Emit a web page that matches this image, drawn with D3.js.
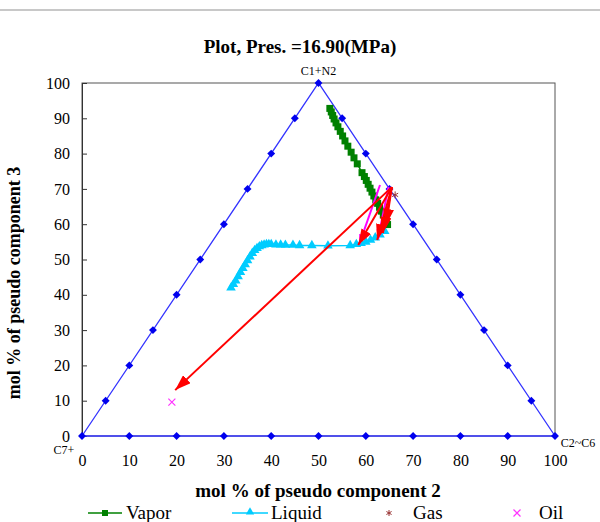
<!DOCTYPE html>
<html>
<head>
<meta charset="utf-8">
<script src="https://cdn.jsdelivr.net/npm/d3@7"></script>
<style>
  body { margin: 0; background: #fff; }
  text { font-family: "Liberation Serif", "Times New Roman", serif; }
</style>
</head>
<body>
<svg id="chart" width="600" height="522"></svg>
<script>
const svg = d3.select("#chart");
const width = +svg.attr("width");
const height = +svg.attr("height");
const margin = { top: 83, right: 45, bottom: 86, left: 82 };

// ternary triangle corners (x = comp 2, y = comp 3)
const corners = [[0, 0], [100, 0], [50, 100]];
const cornerLabels = ["C7+", "C2~C6", "C1+N2"];
const axisTicks = [0, 10, 20, 30, 40, 50, 60, 70, 80, 90, 100];

// vapor phase compositions
const vaporX = [52.4, 52.7, 53.0, 53.3, 53.7, 54.1, 54.6, 55.1, 55.6, 56.2, 56.9, 57.5, 58.2,
  59.2, 59.7, 60.1, 60.5, 60.9, 61.3, 61.7, 62.1, 62.5, 62.9, 63.3, 63.7, 64.0, 64.3, 64.6];
const vaporY = [92.8, 91.8, 90.8, 89.8, 88.7, 87.6, 86.3, 85.0, 83.6, 82.1, 80.4, 78.8, 77.1,
  74.6, 73.5, 72.4, 71.3, 70.2, 69.1, 68.0, 66.9, 65.9, 64.8, 63.7, 62.6, 61.6, 60.7, 59.9];

// liquid phase compositions
const liquidX = [31.5, 32.0, 32.5, 33.0, 33.5, 34.0, 34.5, 35.0, 35.5, 36.0, 36.5, 37.0, 37.5, 38.0,
  38.5, 39.0, 39.5, 40.0, 41.0, 42.0, 43.0, 44.6, 46.0, 48.6, 52.0, 56.7, 58.0, 59.0, 60.0, 61.0, 62.0, 63.0, 64.0];
const liquidY = [42.0, 43.0, 44.0, 45.2, 46.4, 47.5, 48.6, 49.7, 50.8, 51.8, 52.6, 53.2, 53.7, 54.0,
  54.2, 54.3, 54.3, 54.3, 54.2, 54.2, 54.1, 54.1, 54.0, 54.0, 53.9, 54.0, 54.3, 54.6, 55.0, 55.5, 56.2, 57.0, 58.0];

const gas = [66.2, 68.3];
const oil = [19.0, 9.6];

// tie-line arrows: [x1, y1, x2, y2]
const redArrows = [
  [65.5, 70.5, 19.7, 13.0],
  [65.5, 70.5, 58.4, 54.1],
  [65.5, 70.5, 62.4, 55.5],
  [65.5, 70.5, 63.6, 57.5],
  [65.5, 70.5, 64.3, 59.8]
];
const pinkArrows = [
  [63.0, 71.1, 58.6, 54.3],
  [64.8, 70.6, 62.6, 55.8]
];

const x = d3.scaleLinear().domain([0, 100]).range([margin.left, width - margin.right]);
const y = d3.scaleLinear().domain([0, 100]).range([height - margin.bottom, margin.top]);

// grey line on top of page
svg.append("line")
  .attr("x1", 0).attr("x2", width).attr("y1", 10).attr("y2", 10)
  .attr("stroke", "#c8c8c8").attr("stroke-width", 2);

// title
svg.append("text")
  .attr("x", 300).attr("y", 53)
  .attr("text-anchor", "middle")
  .attr("font-size", "19px").attr("font-weight", "bold")
  .text("Plot, Pres. =16.90(MPa)");

// plot frame
svg.append("rect")
  .attr("x", x(0)).attr("y", y(100))
  .attr("width", x(100) - x(0)).attr("height", y(0) - y(100))
  .attr("fill", "none").attr("stroke", "#555").attr("stroke-width", 1);

// y axis
const yAxis = svg.append("g")
  .attr("transform", `translate(${x(0)},0)`)
  .call(d3.axisLeft(y).tickValues(axisTicks).tickSize(-5).tickPadding(12));
yAxis.select(".domain").attr("stroke", "#333");
yAxis.selectAll("line").attr("stroke", "#333");
yAxis.selectAll("text").attr("font-size", "16px").attr("font-family", "Liberation Serif, serif");

// x axis labels
const xAxis = svg.append("g")
  .attr("transform", `translate(0,${y(0)})`)
  .call(d3.axisBottom(x).tickValues(axisTicks).tickSize(0).tickPadding(19));
xAxis.select(".domain").remove();
xAxis.selectAll("text").attr("font-size", "16px").attr("font-family", "Liberation Serif, serif");

// axis titles
svg.append("text")
  .attr("x", 318).attr("y", 497)
  .attr("text-anchor", "middle")
  .attr("font-size", "19px").attr("font-weight", "bold")
  .text("mol % of pseudo component 2");

svg.append("text")
  .attr("transform", "rotate(-90)")
  .attr("x", -283).attr("y", 20)
  .attr("text-anchor", "middle")
  .attr("font-size", "18px").attr("font-weight", "bold")
  .text("mol % of pseudo component 3");

// triangle edges with diamond markers every 10%
const blue = "#3333ff";
const edgePts = [];
for (let i = 0; i < 3; i++) {
  const a = corners[i], b = corners[(i + 1) % 3];
  axisTicks.slice(0, 10).forEach(t => {
    edgePts.push([a[0] + (b[0] - a[0]) * t / 100, a[1] + (b[1] - a[1]) * t / 100]);
  });
}
svg.append("path")
  .datum(corners.concat([corners[0]]))
  .attr("d", d3.line().x(d => x(d[0])).y(d => y(d[1])))
  .attr("fill", "none").attr("stroke", blue).attr("stroke-width", 1.3);
svg.selectAll(".diamond")
  .data(edgePts)
  .enter()
  .append("path")
  .attr("transform", d => `translate(${x(d[0])},${y(d[1])}) rotate(45)`)
  .attr("d", "M-2.8,-2.8H2.8V2.8H-2.8Z")
  .attr("fill", "#0000ee");

// corner labels
const cornerPos = [[-18, 18], [23, 11], [0, -8]];
svg.selectAll(".corner-label")
  .data(cornerLabels)
  .enter()
  .append("text")
  .attr("x", (d, i) => x(corners[i][0]) + cornerPos[i][0])
  .attr("y", (d, i) => y(corners[i][1]) + cornerPos[i][1])
  .attr("text-anchor", "middle")
  .attr("font-size", "12px")
  .text(d => d);

// vapor series
const vapor = vaporX.map((v, i) => [v, vaporY[i]]);
svg.append("path")
  .datum(vapor)
  .attr("d", d3.line().x(d => x(d[0])).y(d => y(d[1])))
  .attr("fill", "none").attr("stroke", "#008000").attr("stroke-width", 1.5);
svg.selectAll(".vap")
  .data(vapor)
  .enter()
  .append("rect")
  .attr("x", d => x(d[0]) - 3.5).attr("y", d => y(d[1]) - 3.5)
  .attr("width", 7).attr("height", 7)
  .attr("fill", "#008000");

// liquid series
const liquid = liquidX.map((v, i) => [v, liquidY[i]]);
svg.append("path")
  .datum(liquid)
  .attr("d", d3.line().x(d => x(d[0])).y(d => y(d[1])))
  .attr("fill", "none").attr("stroke", "#00ccff").attr("stroke-width", 1.5);
const tri = d3.symbol().type(d3.symbolTriangle).size(40);
svg.selectAll(".liq")
  .data(liquid)
  .enter()
  .append("path")
  .attr("transform", d => `translate(${x(d[0])},${y(d[1])})`)
  .attr("d", tri())
  .attr("fill", "#00ccff");

// arrow heads
const defs = svg.append("defs");
[["red", "#ff0000", 16, 11], ["pink", "#ff00ff", 10, 7]].forEach(([id, col, len, w]) => {
  defs.append("marker")
    .attr("id", "head-" + id)
    .attr("markerUnits", "userSpaceOnUse")
    .attr("markerWidth", len).attr("markerHeight", w)
    .attr("refX", len).attr("refY", w / 2)
    .attr("orient", "auto")
    .append("path")
    .attr("d", `M0,0L${len},${w / 2}L0,${w}Z`)
    .attr("fill", col);
});

svg.selectAll(".pink-arrow")
  .data(pinkArrows)
  .enter()
  .append("line")
  .attr("x1", d => x(d[0])).attr("y1", d => y(d[1]))
  .attr("x2", d => x(d[2])).attr("y2", d => y(d[3]))
  .attr("stroke", "#ff00ff").attr("stroke-width", 2)
  .attr("marker-end", "url(#head-pink)");

svg.selectAll(".red-arrow")
  .data(redArrows)
  .enter()
  .append("line")
  .attr("x1", d => x(d[0])).attr("y1", d => y(d[1]))
  .attr("x2", d => x(d[2])).attr("y2", d => y(d[3]))
  .attr("stroke", "#ff0000").attr("stroke-width", 2)
  .attr("marker-end", "url(#head-red)");

// gas star marker
function star(g, cx, cy, r, col) {
  [0, 60, 120].forEach(a => {
    const rad = a * Math.PI / 180;
    g.append("line")
      .attr("x1", cx - r * Math.sin(rad)).attr("y1", cy - r * Math.cos(rad))
      .attr("x2", cx + r * Math.sin(rad)).attr("y2", cy + r * Math.cos(rad))
      .attr("stroke", col).attr("stroke-width", 1);
  });
}
function cross(g, cx, cy, r, col) {
  g.append("path")
    .attr("d", `M${cx - r},${cy - r}L${cx + r},${cy + r}M${cx - r},${cy + r}L${cx + r},${cy - r}`)
    .attr("stroke", col).attr("stroke-width", 1.2).attr("fill", "none");
}
star(svg, x(gas[0]), y(gas[1]), 3.5, "#993333");
cross(svg, x(oil[0]), y(oil[1]), 3.5, "#ff33ff");

// legend
const legend = svg.append("g").attr("transform", "translate(0,513)");
legend.append("line").attr("x1", 88).attr("x2", 122).attr("stroke", "#008000").attr("stroke-width", 1.5);
legend.append("rect").attr("x", 102).attr("y", -3).attr("width", 6).attr("height", 6).attr("fill", "#008000");
legend.append("text").attr("x", 126).attr("y", 6).attr("font-size", "19px").text("Vapor");

legend.append("line").attr("x1", 232).attr("x2", 268).attr("stroke", "#00ccff").attr("stroke-width", 1.5);
legend.append("path").attr("transform", "translate(250,-1)").attr("d", d3.symbol().type(d3.symbolTriangle).size(30)()).attr("fill", "#00ccff");
legend.append("text").attr("x", 271).attr("y", 6).attr("font-size", "19px").text("Liquid");

star(legend, 389, 0, 3, "#993333");
legend.append("text").attr("x", 413).attr("y", 6).attr("font-size", "19px").text("Gas");

cross(legend, 517, 0, 3.5, "#ff33ff");
legend.append("text").attr("x", 539).attr("y", 6).attr("font-size", "19px").text("Oil");
</script>
</body>
</html>
